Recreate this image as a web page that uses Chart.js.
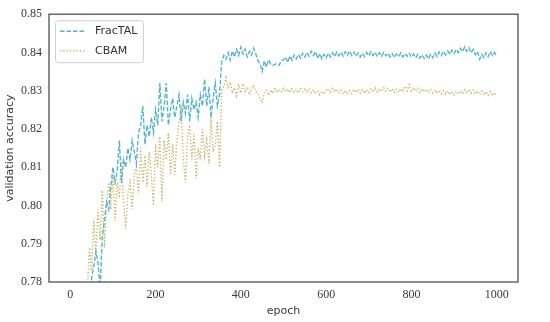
<!DOCTYPE html>
<html>
<head>
<meta charset="utf-8">
<script src="https://cdn.jsdelivr.net/npm/chart.js@4"></script>
<style>
  body { margin: 0; background: #fff; }
  #wrap { width: 550px; height: 322px; }
</style>
</head>
<body>
<div id="wrap"><canvas id="accChart" width="550" height="322"></canvas></div>
<script>
// epochs sampled every 5
const epochs = [
  40, 45, 50, 55, 60, 65, 70, 75, 80, 85,
  90, 95, 100, 105, 110, 115, 120, 125, 130, 135,
  140, 145, 150, 155, 160, 165, 170, 175, 180, 185,
  190, 195, 200, 205, 210, 215, 220, 225, 230, 235,
  240, 245, 250, 255, 260, 265, 270, 275, 280, 285,
  290, 295, 300, 305, 310, 315, 320, 325, 330, 335,
  340, 345, 350, 355, 360,
  365, 370, 375, 380, 385, 390, 395, 400, 405, 410,
  415, 420, 425, 430, 435, 440, 445, 450, 455, 460,
  465, 470, 475, 480, 485, 490, 495, 500, 505, 510,
  515, 520, 525, 530, 535, 540, 545, 550, 555, 560,
  565, 570, 575, 580, 585, 590, 595, 600, 605, 610,
  615, 620, 625, 630, 635, 640, 645, 650, 655, 660,
  665, 670, 675, 680, 685, 690, 695, 700, 705, 710,
  715, 720, 725, 730, 735, 740, 745, 750, 755, 760,
  765, 770, 775, 780, 785, 790, 795, 800, 805, 810,
  815, 820, 825, 830, 835, 840, 845, 850, 855, 860,
  865, 870, 875, 880, 885, 890, 895, 900, 905, 910,
  915, 920, 925, 930, 935, 940, 945, 950, 955, 960,
  965, 970, 975, 980, 985, 990, 995, 1000
];

const fractal = [
  0.772, 0.776, 0.781, 0.784, 0.788, 0.785, 0.778, 0.792, 0.796, 0.801,
  0.799, 0.805, 0.810, 0.806, 0.809, 0.817, 0.806, 0.812, 0.810, 0.815,
  0.812, 0.817, 0.814, 0.811, 0.819, 0.821, 0.826, 0.816, 0.821, 0.818,
  0.823, 0.819, 0.825, 0.821, 0.832, 0.822, 0.826, 0.832, 0.821, 0.825,
  0.828, 0.823, 0.826, 0.829, 0.822, 0.827, 0.824, 0.829, 0.822, 0.828,
  0.825, 0.827, 0.823, 0.829, 0.826, 0.833, 0.826, 0.831, 0.823, 0.828,
  0.832, 0.826, 0.829, 0.8375, 0.8392,
  0.8383, 0.8400, 0.8380, 0.8404, 0.8388, 0.8408, 0.8392, 0.8414, 0.8396, 0.8409,
  0.8389, 0.8403, 0.8393, 0.8411, 0.8396, 0.8379, 0.8370, 0.8350, 0.8378, 0.8362,
  0.8381, 0.8370, 0.8366, 0.8369, 0.8371, 0.8367, 0.8380, 0.8380, 0.8388, 0.8374,
  0.8391, 0.8379, 0.8393, 0.8383, 0.8395, 0.8385, 0.8398, 0.8388, 0.8400, 0.8390,
  0.8403, 0.8392, 0.8402, 0.8384, 0.8397, 0.8383, 0.8395, 0.8386, 0.8398, 0.8388,
  0.8399, 0.8389, 0.8401, 0.8391, 0.8400, 0.8390, 0.8402, 0.8393, 0.8404, 0.8392,
  0.8401, 0.8390, 0.8399, 0.8388, 0.8398, 0.8389, 0.8400, 0.8391, 0.8402, 0.8392,
  0.8401, 0.8389, 0.8399, 0.8390, 0.8400, 0.8391, 0.8398, 0.8388, 0.8397, 0.8387,
  0.8396, 0.8389, 0.8399, 0.8388, 0.8397, 0.8390, 0.8398, 0.8388, 0.8396, 0.8386,
  0.8395, 0.8385, 0.8394, 0.8384, 0.8393, 0.8383, 0.8395, 0.8386, 0.8398, 0.8389,
  0.8401, 0.8392, 0.8403, 0.8394, 0.8404, 0.8395, 0.8406, 0.8397, 0.8408, 0.8399,
  0.8411, 0.8402, 0.8415, 0.8403, 0.8412, 0.8399, 0.8408, 0.8394, 0.8402, 0.8382,
  0.8395, 0.8386, 0.8399, 0.8389, 0.8402, 0.8392, 0.8400, 0.8389
];

const cbam = [
  0.778, 0.789, 0.783, 0.796, 0.787, 0.799, 0.791, 0.804, 0.789, 0.800,
  0.806, 0.799, 0.808, 0.796, 0.806, 0.802, 0.812, 0.800, 0.794, 0.803,
  0.806, 0.799, 0.808, 0.810, 0.803, 0.815, 0.806, 0.813, 0.805, 0.814,
  0.808, 0.800, 0.816, 0.810, 0.818, 0.801, 0.817, 0.812, 0.819, 0.808,
  0.816, 0.808, 0.817, 0.822, 0.825, 0.812, 0.806, 0.818, 0.821, 0.812,
  0.819, 0.807, 0.815, 0.812, 0.820, 0.813, 0.817, 0.811, 0.823, 0.814,
  0.816, 0.822, 0.810, 0.8300, 0.8312,
  0.8334, 0.8306, 0.8323, 0.8294, 0.8308, 0.8287, 0.8314, 0.8294, 0.8318, 0.8298,
  0.8309, 0.8289, 0.8306, 0.8313, 0.8297, 0.8294, 0.8281, 0.8268, 0.8296, 0.8301,
  0.8288, 0.8302, 0.8293, 0.8305, 0.8295, 0.8304, 0.8296, 0.8306, 0.8297, 0.8304,
  0.8295, 0.8305, 0.8296, 0.8303, 0.8294, 0.8305, 0.8297, 0.8307, 0.8296, 0.8304,
  0.8295, 0.8303, 0.8292, 0.8300, 0.8290, 0.8299, 0.8291, 0.8301, 0.8305, 0.8296,
  0.8306, 0.8297, 0.8304, 0.8294, 0.8302, 0.8292, 0.8301, 0.8291, 0.8300, 0.8293,
  0.8303, 0.8295, 0.8304, 0.8294, 0.8302, 0.8293, 0.8303, 0.8295, 0.8305, 0.8296,
  0.8307, 0.8297, 0.8306, 0.8298, 0.8308, 0.8299, 0.8307, 0.8297, 0.8305, 0.8296,
  0.8304, 0.8295, 0.8305, 0.8297, 0.8312, 0.8300, 0.8316, 0.8299, 0.8308, 0.8298,
  0.8306, 0.8296, 0.8305, 0.8297, 0.8304, 0.8295, 0.8303, 0.8294, 0.8302, 0.8293,
  0.8301, 0.8292, 0.8300, 0.8291, 0.8299, 0.8290, 0.8298, 0.8289, 0.8299, 0.8291,
  0.8300, 0.8292, 0.8302, 0.8293, 0.8303, 0.8294, 0.8302, 0.8292, 0.8300, 0.8290,
  0.8299, 0.8289, 0.8298, 0.8288, 0.8297, 0.8287, 0.8295, 0.8286
];

const xTicks = [0, 200, 400, 600, 800, 1000];
const yTicks = [0.78, 0.79, 0.80, 0.81, 0.82, 0.83, 0.84, 0.85];

function toPoints(vals) {
  return epochs.map((e, i) => ({ x: e, y: vals[i] }));
}

// 外框
const framePlugin = {
  id: "frame",
  afterDraw(chart) {
    const { ctx, chartArea: a } = chart;
    ctx.save();
    ctx.strokeStyle = "#4a4a4a";
    ctx.lineWidth = 1.25;
    ctx.strokeRect(a.left, a.top, a.right - a.left, a.bottom - a.top);
    ctx.restore();
  },
};

// 图例（放在绘图区内）
const boxLegend = {
  id: "boxLegend",
  afterDraw(chart) {
    const { ctx, chartArea: a } = chart;
    const x = a.left + 6, y = a.top + 6, w = 88, h = 42;
    ctx.save();
    ctx.fillStyle = "rgba(255,255,255,0.85)";
    ctx.strokeStyle = "#d0d0d0";
    ctx.lineWidth = 1;
    ctx.beginPath();
    ctx.roundRect(x + 0.5, y + 0.5, w, h, 3);
    ctx.fill();
    ctx.stroke();
    chart.data.datasets.forEach((ds, i) => {
      const cy = y + 11 + i * 19.5;
      ctx.strokeStyle = ds.borderColor;
      ctx.lineWidth = ds.borderWidth;
      ctx.setLineDash(ds.borderDash);
      ctx.beginPath();
      ctx.moveTo(x + 5, cy);
      ctx.lineTo(x + 31, cy);
      ctx.stroke();
      ctx.setLineDash([]);
      ctx.fillStyle = "#333";
      ctx.font = "11px 'DejaVu Sans'";
      ctx.textBaseline = "middle";
      ctx.fillText(ds.label, x + 40, cy);
    });
    ctx.restore();
  },
};

const serif = "Liberation Serif, 'Times New Roman', serif";

const ctx = document.getElementById("accChart").getContext("2d");
new Chart(ctx, {
  type: "line",
  data: {
    datasets: [
      {
        label: "FracTAL",
        data: toPoints(fractal),
        borderColor: "#56b4cb",
        borderWidth: 1.4,
        borderDash: [4.5, 2],
        pointRadius: 0,
        tension: 0,
      },
      {
        label: "CBAM",
        data: toPoints(cbam),
        borderColor: "#c9b46a",
        borderWidth: 1.4,
        borderDash: [1.3, 2],
        pointRadius: 0,
        tension: 0,
      },
    ],
  },
  options: {
    responsive: false,
    animation: false,
    layout: { padding: { top: 10, right: 32, left: 0, bottom: 0 } },
    plugins: {
      legend: { display: false },
      tooltip: { enabled: false },
    },
    scales: {
      x: {
        type: "linear",
        min: -50,
        max: 1050,
        grid: { display: false, drawTicks: false },
        border: { display: false },
        afterBuildTicks: (s) => { s.ticks = xTicks.map((v) => ({ value: v })); },
        afterFit: (s) => { s.height = 40; },
        ticks: {
          padding: 6,
          color: "#3a3a3a",
          font: { family: serif, size: 12 },
          maxRotation: 0,
          callback: (v) => String(v),
        },
        title: {
          display: true,
          text: "epoch",
          color: "#3a3a3a",
          font: { family: "'DejaVu Sans'", size: 11 },
          padding: { top: 0, bottom: 4 },
        },
      },
      y: {
        min: 0.78,
        max: 0.85,
        grid: { display: false, drawTicks: false },
        border: { display: false },
        afterBuildTicks: (s) => { s.ticks = yTicks.map((v) => ({ value: v })); },
        afterFit: (s) => { s.width = 49; },
        ticks: {
          padding: 7,
          color: "#3a3a3a",
          font: { family: serif, size: 12 },
          callback: (v) => v.toFixed(2),
        },
        title: {
          display: true,
          text: "validation accuracy",
          color: "#3a3a3a",
          font: { family: "'DejaVu Sans'", size: 11 },
          padding: { top: 4, bottom: 0 },
        },
      },
    },
  },
  plugins: [framePlugin, boxLegend],
});
</script>
</body>
</html>
